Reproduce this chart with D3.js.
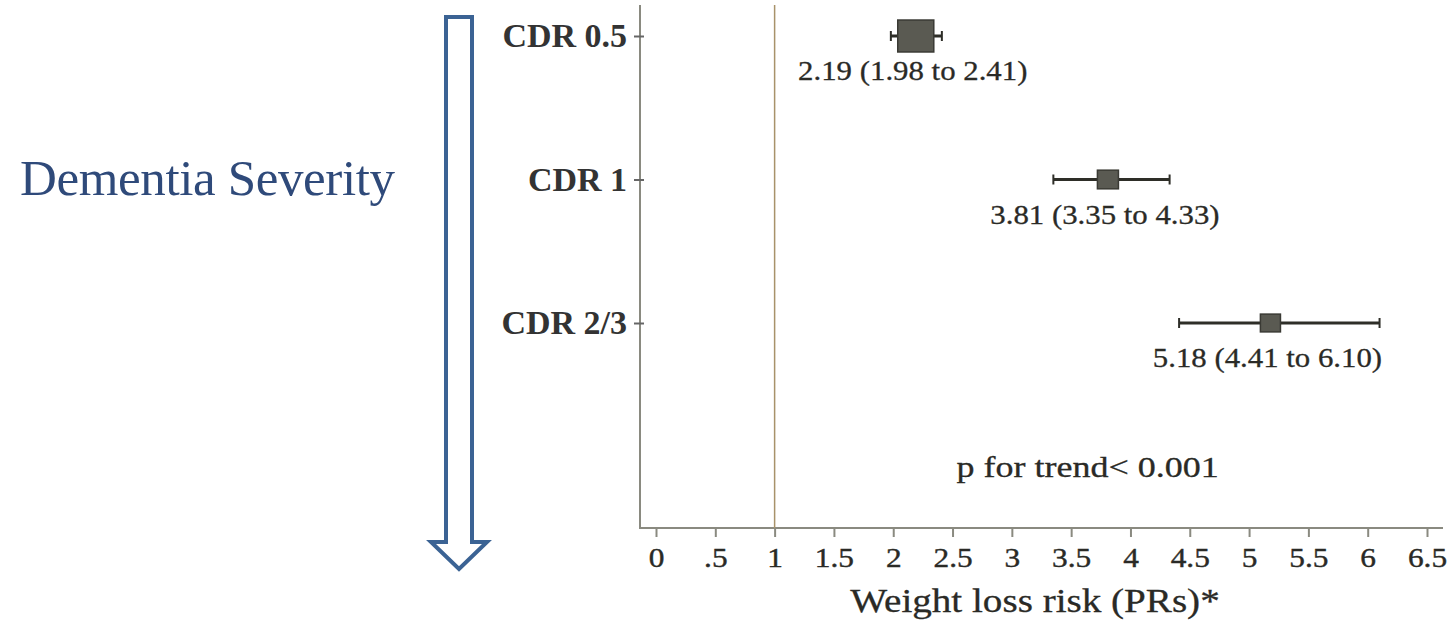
<!DOCTYPE html>
<html>
<head>
<meta charset="utf-8">
<script src="https://cdn.jsdelivr.net/npm/d3@7"></script>
<style>
  body { margin: 0; background: #fff; }
  svg { display: block; }
  text { font-family: "Liberation Serif", "Times New Roman", serif; }
</style>
</head>
<body>
<div id="chart"></div>
<script>
// forest plot data
const groups = ['CDR 0.5', 'CDR 1', 'CDR 2/3'];
const estimates = [2.19, 3.81, 5.18];
const lower = [1.98, 3.35, 4.41];
const upper = [2.41, 4.33, 6.10];
const weights = [1, 0.34, 0.31]; // relative box weights (estimated)
const xTicks = [0, 0.5, 1, 1.5, 2, 2.5, 3, 3.5, 4, 4.5, 5, 5.5, 6, 6.5];
const refValue = 1;
const trendText = 'p for trend< 0.001';
const xTitle = 'Weight loss risk (PRs)*';
const sideTitle = 'Dementia Severity';

const width = 1451, height = 626;
const ink = '#2a2a26';

const svg = d3.select('#chart')
  .append('svg')
  .attr('width', width)
  .attr('height', height);

const x = d3.scaleLinear().domain([0, 6.5]).range([656, 1427]);
const y = d3.scalePoint().domain(groups).range([36, 323]);
const box = d3.scaleSqrt().domain([0, 1]).range([0, 34]);

const axisY = 528, axisX = 640;

// the picture is a bit wider than the fonts, so stretch text sideways
function stretch(sel, k) {
  sel.each(function () {
    const n = this.getComputedTextLength();
    d3.select(this).attr('textLength', n * k).attr('lengthAdjust', 'spacingAndGlyphs');
  });
}

// side arrow + title
svg.append('path')
  .attr('d', 'M446,17 L472,17 L472,542 L487,542 L459,569 L431,542 L446,542 Z')
  .attr('fill', 'none')
  .attr('stroke', '#3b6394')
  .attr('stroke-width', 4)
  .attr('stroke-linejoin', 'miter');

svg.append('text')
  .attr('x', 20)
  .attr('y', 195)
  .attr('font-size', 51)
  .attr('fill', '#2f4a7a')
  .attr('textLength', 375)
  .text(sideTitle);

// vertical axis line
svg.append('line')
  .attr('x1', axisX).attr('x2', axisX)
  .attr('y1', 5).attr('y2', axisY)
  .attr('stroke', '#8a8a80').attr('stroke-width', 2);

const xAxis = d3.axisBottom(x)
  .tickValues(xTicks)
  .tickSize(9)
  .tickPadding(10)
  .tickFormat(d => d === 0.5 ? '.5' : d3.format('')(d));

const gx = svg.append('g')
  .attr('transform', `translate(0,${axisY})`)
  .call(xAxis);
gx.select('.domain').remove();
gx.selectAll('.tick line').attr('stroke', '#8a8a80').attr('stroke-width', 2);
gx.selectAll('.tick text')
  .attr('font-size', 28)
  .attr('font-family', '"Liberation Serif", serif')
  .attr('fill', ink)
  .attr('stroke', ink)
  .attr('stroke-width', 0.4)
  .call(stretch, 1.12);

svg.append('line')
  .attr('x1', axisX - 1).attr('x2', 1443)
  .attr('y1', axisY).attr('y2', axisY)
  .attr('stroke', '#8a8a80').attr('stroke-width', 2);

svg.append('text')
  .attr('x', 1035)
  .attr('y', 612)
  .attr('text-anchor', 'middle')
  .attr('font-size', 34)
  .attr('fill', ink)
  .attr('stroke', ink)
  .attr('stroke-width', 0.3)
  .text(xTitle)
  .call(stretch, 1.15);

// y ticks and labels
const yAxis = d3.axisLeft(y).tickSize(7).tickPadding(6);
const gy = svg.append('g')
  .attr('transform', `translate(${axisX},0)`)
  .call(yAxis);
gy.select('.domain').remove();
gy.selectAll('.tick line').attr('stroke', '#666').attr('stroke-width', 2).attr('x2', -6).attr('x1', 4);
gy.selectAll('.tick text')
  .attr('font-size', 33)
  .attr('font-weight', 'bold')
  .attr('font-family', '"Liberation Serif", serif')
  .attr('fill', '#333')
  .call(stretch, 1.03);

// reference line
svg.append('line')
  .attr('x1', x(refValue)).attr('x2', x(refValue))
  .attr('y1', 5).attr('y2', axisY)
  .attr('stroke', '#a8926a').attr('stroke-width', 1.5);

// rows
const rows = groups.map((g, i) => ({
  g, est: estimates[i], lo: lower[i], hi: upper[i], w: weights[i]
}));
const f = d3.format('.2f');

const row = svg.selectAll('.row')
  .data(rows)
  .enter()
  .append('g')
  .attr('class', 'row');

row.append('line')
  .attr('x1', d => x(d.lo)).attr('x2', d => x(d.hi))
  .attr('y1', d => y(d.g)).attr('y2', d => y(d.g))
  .attr('stroke', '#2e2e28').attr('stroke-width', 3);

row.selectAll('.cap')
  .data(d => [d.lo, d.hi].map(v => ({v, g: d.g})))
  .enter()
  .append('line')
  .attr('x1', d => x(d.v)).attr('x2', d => x(d.v))
  .attr('y1', d => y(d.g) - 5).attr('y2', d => y(d.g) + 5)
  .attr('stroke', '#2e2e28').attr('stroke-width', 2);

row.append('rect')
  .attr('x', d => x(d.est) - box(d.w) * 1.06 / 2)
  .attr('y', d => y(d.g) - box(d.w) * 0.94 / 2)
  .attr('width', d => box(d.w) * 1.06)
  .attr('height', d => box(d.w) * 0.94)
  .attr('fill', '#5a5a52')
  .attr('stroke', '#3a3a34')
  .attr('stroke-width', 1.5);

row.append('text')
  .attr('x', d => x(d.est) - 3)
  .attr('y', d => y(d.g) + 44)
  .attr('text-anchor', 'middle')
  .attr('font-size', 28)
  .attr('fill', ink)
  .attr('stroke', ink)
  .attr('stroke-width', 0.3)
  .text(d => `${f(d.est)} (${f(d.lo)} to ${f(d.hi)})`)
  .call(stretch, 1.1);

svg.append('text')
  .attr('x', x(3.64))
  .attr('y', 477)
  .attr('text-anchor', 'middle')
  .attr('font-size', 30)
  .attr('fill', ink)
  .attr('stroke', ink)
  .attr('stroke-width', 0.3)
  .text(trendText)
  .call(stretch, 1.2);
</script>
</body>
</html>
